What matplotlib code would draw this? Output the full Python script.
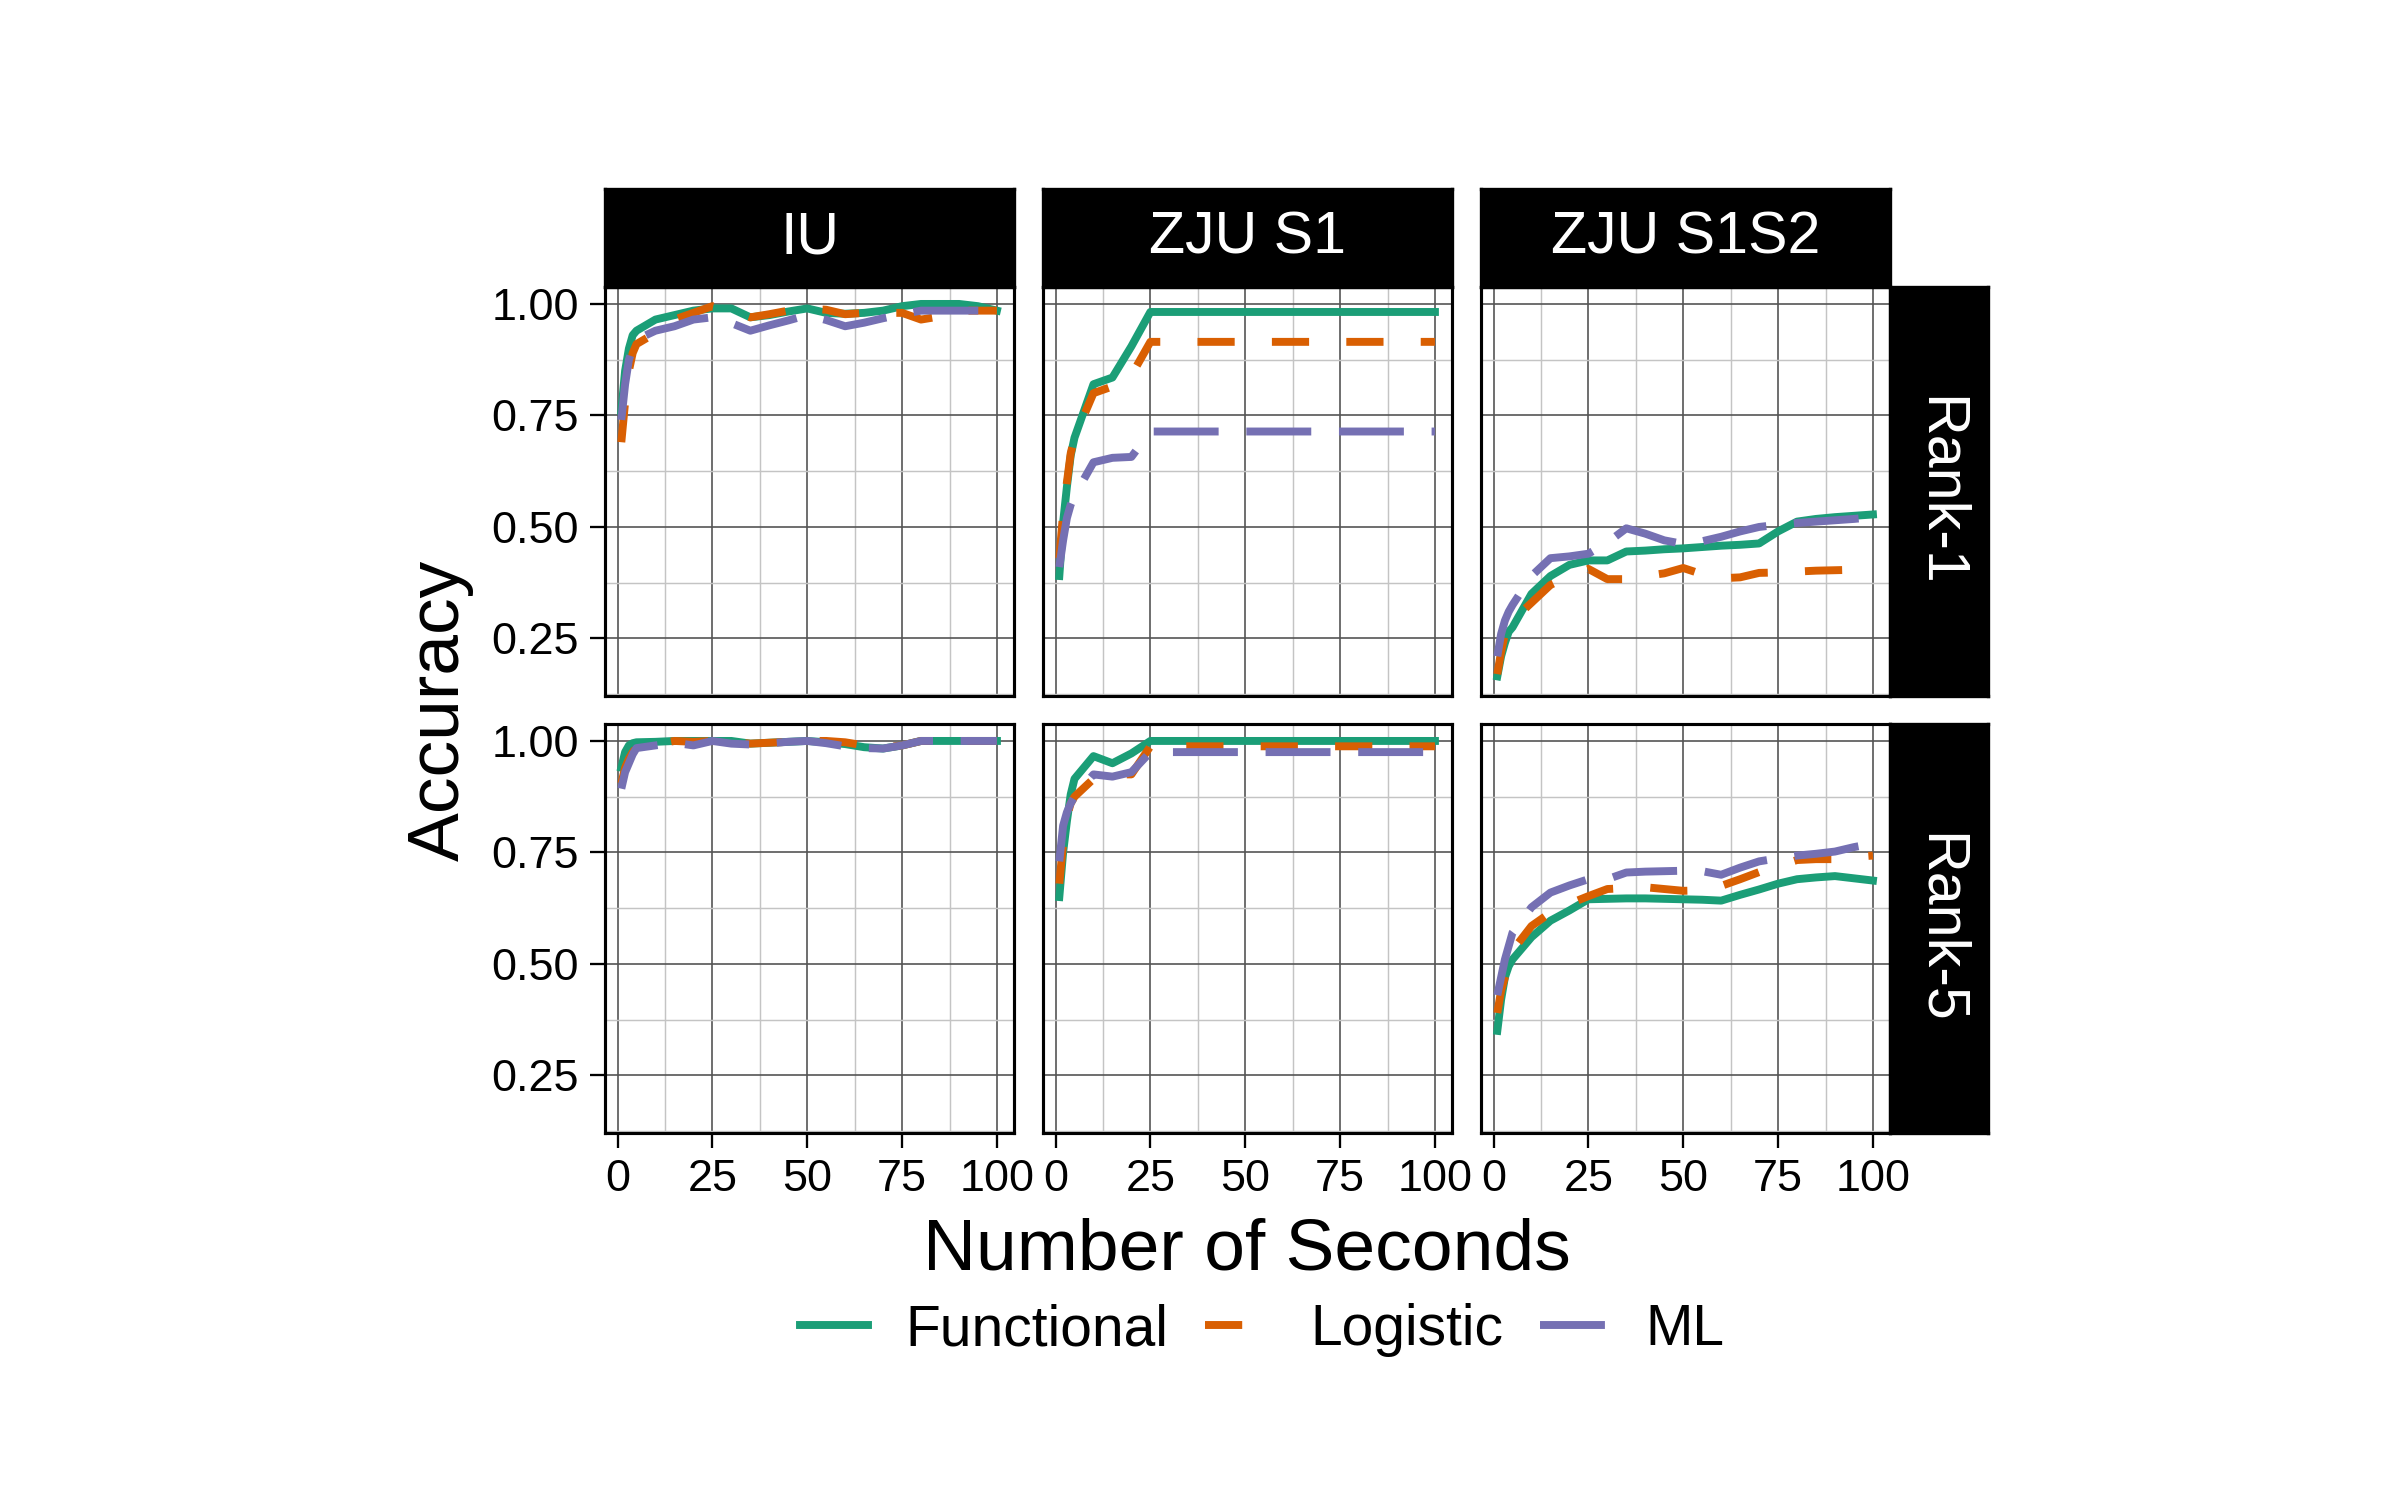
import matplotlib.pyplot as plt
from matplotlib.lines import Line2D

plt.rcParams['font.family'] = ['Liberation Sans', 'DejaVu Sans']

seconds = [1, 2, 3, 4, 5, 10, 15, 20, 25, 30, 35, 40, 45, 50,
           55, 60, 65, 70, 75, 80, 85, 90, 95, 100]

datasets = ['IU', 'ZJU S1', 'ZJU S1S2']
ranks = ['Rank-1', 'Rank-5']
methods = ['Functional', 'Logistic', 'ML']

# Rank-1
iu_r1_functional = [0.76, 0.85, 0.90, 0.93, 0.94, 0.965, 0.975, 0.985, 0.99, 0.99, 0.97, 0.975,
                    0.983, 0.99, 0.98, 0.978, 0.98, 0.985, 0.995, 1.0, 1.0, 1.0, 0.995, 0.985]
iu_r1_logistic = [0.69, 0.78, 0.85, 0.89, 0.91, 0.935, 0.965, 0.98, 0.995, 0.985, 0.97, 0.977,
                  0.985, 0.99, 0.987, 0.977, 0.98, 0.98, 0.98, 0.965, 0.972, 0.985, 0.985, 0.985]
iu_r1_ml = [0.74, 0.82, 0.875, 0.90, 0.92, 0.94, 0.95, 0.965, 0.97, 0.957, 0.94, 0.952,
            0.963, 0.975, 0.964, 0.95, 0.958, 0.968, 0.977, 0.985, 0.985, 0.985, 0.985, 0.985]

zs1_r1_functional = [0.39, 0.51, 0.59, 0.66, 0.70, 0.82, 0.835, 0.905, 0.982, 0.982, 0.982, 0.982,
                     0.982, 0.982, 0.982, 0.982, 0.982, 0.982, 0.982, 0.982, 0.982, 0.982, 0.982, 0.982]
zs1_r1_logistic = [0.43, 0.53, 0.60, 0.665, 0.70, 0.80, 0.815, 0.84, 0.915, 0.915, 0.915, 0.915,
                   0.915, 0.915, 0.915, 0.915, 0.915, 0.915, 0.915, 0.915, 0.915, 0.915, 0.915, 0.915]
zs1_r1_ml = [0.41, 0.47, 0.52, 0.55, 0.57, 0.645, 0.655, 0.657, 0.714, 0.714, 0.714, 0.714,
             0.714, 0.714, 0.714, 0.714, 0.714, 0.714, 0.714, 0.714, 0.714, 0.714, 0.714, 0.714]

zs12_r1_functional = [0.165, 0.21, 0.24, 0.265, 0.275, 0.35, 0.39, 0.415, 0.425, 0.425, 0.445, 0.447,
                      0.45, 0.452, 0.455, 0.458, 0.46, 0.463, 0.49, 0.512, 0.518, 0.522, 0.525, 0.528]
zs12_r1_logistic = [0.17, 0.22, 0.26, 0.28, 0.29, 0.33, 0.37, 0.39, 0.406, 0.383, 0.383, 0.39,
                    0.396, 0.408, 0.394, 0.385, 0.387, 0.397, 0.398, 0.40, 0.402, 0.403, 0.404, 0.405]
zs12_r1_ml = [0.21, 0.26, 0.29, 0.31, 0.325, 0.39, 0.43, 0.434, 0.44, 0.465, 0.497, 0.485,
              0.47, 0.462, 0.468, 0.478, 0.49, 0.50, 0.505, 0.509, 0.512, 0.515, 0.518, 0.522]

# Rank-5
iu_r5_functional = [0.94, 0.975, 0.99, 0.995, 0.997, 0.998, 1.0, 1.0, 1.0, 1.0, 0.994, 0.996,
                    0.998, 1.0, 0.997, 0.993, 0.986, 0.983, 0.99, 1.0, 1.0, 1.0, 1.0, 1.0]
iu_r5_logistic = [0.905, 0.94, 0.96, 0.975, 0.985, 0.992, 1.0, 0.998, 1.0, 0.997, 0.994, 0.996,
                  0.998, 1.0, 1.0, 0.997, 0.99, 0.985, 0.99, 1.0, 1.0, 1.0, 1.0, 1.0]
iu_r5_ml = [0.893, 0.93, 0.95, 0.97, 0.984, 0.99, 0.996, 0.99, 1.0, 0.994, 0.992, 0.995,
            0.998, 1.0, 0.995, 0.988, 0.984, 0.983, 0.99, 1.0, 1.0, 1.0, 1.0, 1.0]

zs1_r5_functional = [0.65, 0.75, 0.82, 0.88, 0.915, 0.966, 0.95, 0.972, 1.0, 1.0, 1.0, 1.0,
                     1.0, 1.0, 1.0, 1.0, 1.0, 1.0, 1.0, 1.0, 1.0, 1.0, 1.0, 1.0]
zs1_r5_logistic = [0.68, 0.77, 0.83, 0.86, 0.875, 0.915, 0.925, 0.925, 0.988, 0.988, 0.988, 0.988,
                   0.988, 0.988, 0.988, 0.988, 0.988, 0.988, 0.988, 0.988, 0.988, 0.988, 0.988, 0.988]
zs1_r5_ml = [0.73, 0.81, 0.84, 0.86, 0.875, 0.925, 0.92, 0.93, 0.975, 0.975, 0.975, 0.975,
             0.975, 0.975, 0.975, 0.975, 0.975, 0.975, 0.975, 0.975, 0.975, 0.975, 0.975, 0.975]

zs12_r5_functional = [0.35, 0.42, 0.47, 0.495, 0.51, 0.56, 0.597, 0.62, 0.645, 0.646, 0.647, 0.647,
                      0.646, 0.645, 0.644, 0.642, 0.655, 0.667, 0.68, 0.69, 0.694, 0.697, 0.692, 0.687]
zs12_r5_logistic = [0.39, 0.44, 0.47, 0.50, 0.53, 0.585, 0.615, 0.635, 0.652, 0.668, 0.67, 0.672,
                    0.668, 0.664, 0.665, 0.675, 0.69, 0.706, 0.72, 0.733, 0.735, 0.735, 0.74, 0.743]
zs12_r5_ml = [0.43, 0.47, 0.51, 0.54, 0.57, 0.627, 0.66, 0.676, 0.69, 0.69, 0.705, 0.707,
              0.708, 0.709, 0.708, 0.70, 0.716, 0.73, 0.737, 0.743, 0.747, 0.752, 0.762, 0.77]

panels = {
    ('Rank-1', 'IU'): [iu_r1_functional, iu_r1_logistic, iu_r1_ml],
    ('Rank-1', 'ZJU S1'): [zs1_r1_functional, zs1_r1_logistic, zs1_r1_ml],
    ('Rank-1', 'ZJU S1S2'): [zs12_r1_functional, zs12_r1_logistic, zs12_r1_ml],
    ('Rank-5', 'IU'): [iu_r5_functional, iu_r5_logistic, iu_r5_ml],
    ('Rank-5', 'ZJU S1'): [zs1_r5_functional, zs1_r5_logistic, zs1_r5_ml],
    ('Rank-5', 'ZJU S1S2'): [zs12_r5_functional, zs12_r5_logistic, zs12_r5_ml],
}

colors = ['#1B9E77', '#D95F02', '#7570B3']
styles = ['-', (0, (4.7, 4.7)), (0, (8.2, 3.5))]
LW = 1.9

W, H = 2392, 1502
fig = plt.figure(figsize=(W / 300, H / 300), dpi=300)


def rect(left, top, right, bottom):
    return [left / W, 1 - bottom / H, (right - left) / W, (bottom - top) / H]


col_x = [(605, 1014), (1043, 1452), (1481, 1890)]
row_y = [(287, 696), (724, 1133)]

for r, rank in enumerate(ranks):
    for c, ds in enumerate(datasets):
        x0, x1 = col_x[c]
        y0, y1 = row_y[r]
        ax = fig.add_axes(rect(x0, y0, x1, y1))
        for vals, col, ls in zip(panels[(rank, ds)], colors, styles):
            ax.plot(seconds, vals, color=col, linestyle=ls, lw=LW, zorder=3)
        ax.set_xlim(-3.3, 104.5)
        ax.set_ylim(0.121, 1.038)
        ax.set_xticks([0, 25, 50, 75, 100])
        ax.set_xticks([12.5, 37.5, 62.5, 87.5], minor=True)
        ax.set_yticks([0.25, 0.50, 0.75, 1.00])
        ax.set_yticks([0.125, 0.375, 0.625, 0.875], minor=True)
        ax.grid(which='major', color='#555555', lw=0.4)
        ax.grid(which='minor', color='#c4c4c4', lw=0.35)
        ax.set_axisbelow(True)
        for s in ax.spines.values():
            s.set_linewidth(0.75)
            s.set_color('black')
        ax.tick_params(which='minor', length=0)
        ax.tick_params(which='major', length=3.6, width=0.55, pad=2.6,
                       labelsize=10.8, colors='black')
        if c == 0:
            ax.set_yticklabels(['0.25', '0.50', '0.75', '1.00'])
        else:
            ax.tick_params(axis='y', length=0, labelleft=False)
        if r == 1:
            ax.set_xticklabels(['0', '25', '50', '75', '100'])
        else:
            ax.tick_params(axis='x', length=0, labelbottom=False)

        if r == 0:
            sax = fig.add_axes(rect(x0, 189, x1, 287))
            sax.set_facecolor('black')
            sax.set_xticks([])
            sax.set_yticks([])
            sax.text(0.5, 0.5, ds, color='white', fontsize=14.2,
                     ha='center', va='center', transform=sax.transAxes)
        if c == 2:
            sax = fig.add_axes(rect(1890, y0, 1988, y1))
            sax.set_facecolor('black')
            sax.set_xticks([])
            sax.set_yticks([])
            sax.text(0.5, 0.5, rank, color='white', fontsize=14.2, rotation=-90,
                     ha='center', va='center', transform=sax.transAxes)

fig.text(440 / W, 1 - 710 / H, 'Accuracy', rotation=90, fontsize=17.6,
         ha='center', va='center')
fig.text(1247 / W, 1 - 1270 / H, 'Number of Seconds', fontsize=17.6,
         ha='center', va='baseline')

handles = [Line2D([], [], color=col, linestyle=ls, lw=LW) for col, ls in zip(colors, styles)]
fig.legend(handles, methods, loc='center', bbox_to_anchor=(1262 / W, 1 - 1330 / H),
           ncol=3, frameon=False, fontsize=13.7, handlelength=1.19,
           handletextpad=0.65, columnspacing=0.65, borderpad=0)

fig.savefig('out.png', dpi=300, facecolor='white')
